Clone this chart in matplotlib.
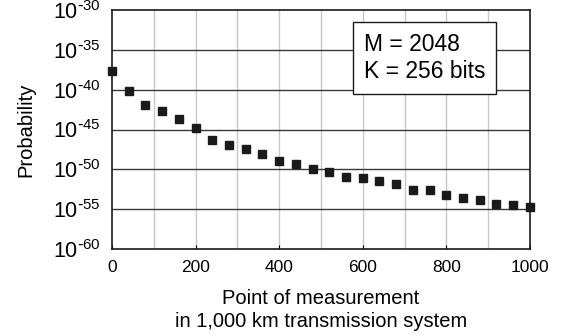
import numpy as np
import matplotlib
matplotlib.use('Agg')
matplotlib.rcParams['font.family'] = 'sans-serif'
matplotlib.rcParams['font.sans-serif'] = ['Liberation Sans', 'DejaVu Sans']
matplotlib.rcParams['mathtext.default'] = 'regular'
import matplotlib.pyplot as plt

# measurement points (km) and log10 of probability
position = [0, 40, 80, 120, 160, 200, 240, 280, 320, 360, 400, 440, 480,
            520, 560, 600, 640, 680, 720, 760, 800, 840, 880, 920, 960, 1000]
log_prob = [-37.6, -40.1, -41.9, -42.7, -43.7, -44.8, -46.3, -46.9, -47.5,
            -48.1, -48.9, -49.3, -49.9, -50.3, -51.0, -51.1, -51.5, -51.9,
            -52.6, -52.6, -53.2, -53.6, -53.9, -54.4, -54.5, -54.7]
y_exps = [-30, -35, -40, -45, -50, -55, -60]
x_ticks = [0, 200, 400, 600, 800, 1000]

prob = 10.0 ** np.array(log_prob)

fig = plt.figure(figsize=(5.61, 3.36), dpi=100)
ax = fig.add_axes([0.1996, 0.259, 0.745, 0.711])

ax.set_yscale('log')
ax.set_ylim(1e-60, 1e-30)
ax.set_xlim(0, 1000)

# grid: light vertical every 100, dark horizontal every 5 decades
for xv in range(100, 1000, 100):
    ax.axvline(xv, color='#c8c8c8', lw=1.0, zorder=0)
for e in y_exps[1:-1]:
    ax.axhline(10.0 ** e, color='#3a3a3a', lw=1.0, zorder=0)

ax.plot(position, prob, 's', color='#1a1a1a', ms=6.3, clip_on=False, zorder=3)

ax.set_yticks([10.0 ** e for e in y_exps])
ax.set_yticklabels([r'$10^{\text{-}%d}$' % -e for e in y_exps], fontsize=15.5)
ax.minorticks_off()
ax.tick_params(axis='y', length=0, pad=8)
ax.set_xticks(x_ticks)
ax.set_xticklabels([str(v) for v in x_ticks], fontsize=12.5)
ax.tick_params(axis='x', direction='in', length=3, pad=8)

for s in ['left', 'bottom', 'top', 'right']:
    ax.spines[s].set_linewidth(1.2)
    ax.spines[s].set_color('#1a1a1a')

ax.set_xlabel('Point of measurement\nin 1,000 km transmission system',
              fontsize=14.5, linespacing=1.3, labelpad=10)
ax.set_ylabel('Probability', fontsize=14.5, labelpad=13)

ax.text(0.602, 0.80, 'M = 2048\nK = 256 bits', transform=ax.transAxes,
        fontsize=16.5, linespacing=1.25, va='center', ha='left',
        bbox=dict(boxstyle='square,pad=0.47', fc='white', ec='#1a1a1a', lw=1.0),
        zorder=4)

fig.savefig('out.png', dpi=100)
